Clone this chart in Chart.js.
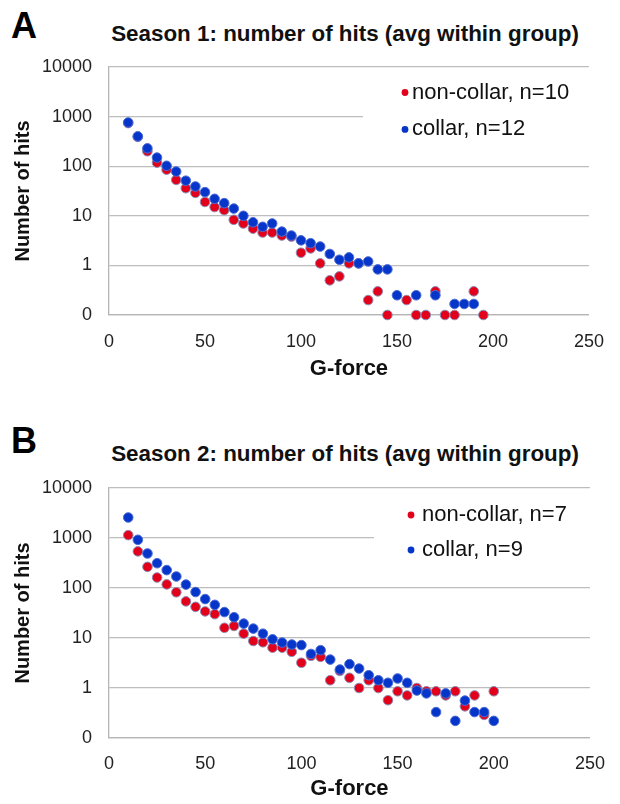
<!DOCTYPE html>
<html>
<head>
<meta charset="utf-8">
<script src="https://cdn.jsdelivr.net/npm/chart.js@4.4.1/dist/chart.umd.min.js"></script>
<style>
  html, body { margin: 0; padding: 0; background: #fff; }
  body { width: 620px; height: 804px; position: relative; overflow: hidden; }
  canvas { position: absolute; left: 0; }
  .panel { position: absolute; left: 11px; font: bold 36px "Liberation Sans", Arial, sans-serif; line-height: 1; color: #000; }
  .title { position: absolute; left: 345px; transform: translateX(-50%); white-space: nowrap;
           font: bold 22.4px "Liberation Sans", Arial, sans-serif; line-height: 1; color: #111; }
</style>
</head>
<body>
<div class="panel" style="top:8px">A</div>
<div class="title" style="top:23px">Season 1: number of hits (avg within group)</div>
<canvas id="chartA" width="620" height="400" style="top:0"></canvas>
<div class="panel" style="top:423px">B</div>
<div class="title" style="top:443px">Season 2: number of hits (avg within group)</div>
<canvas id="chartB" width="620" height="383" style="top:421px"></canvas>
<script>
// G-force bins (x), shared by both seasons
const gForce = [10, 15, 20, 25, 30, 35, 40, 45, 50, 55, 60, 65, 70, 75, 80, 85, 90, 95, 100,
  105, 110, 115, 120, 125, 130, 135, 140, 145, 150, 155, 160, 165, 170, 175, 180, 185, 190, 195, 200];

// season 1, avg hits per player (null = no point shown)
const s1NonCollar = [740, 390, 200, 118, 85, 53, 36, 29, 19, 15, 13, 8.3, 7, 5.5, 4.6, 4.6, 4, 3.8, 1.8,
  2.2, 1.1, 0.5, 0.6, 1.1, 1.1, 0.2, 0.3, 0.1, null, 0.2, 0.1, 0.1, 0.3, 0.1, 0.1, null, 0.3, 0.1, null];
const s1Collar = [760, 400, 229, 149, 102, 78, 51, 39, 30, 22, 18, 14, 10, 7.4, 6, 7, 4.8, 4, 3.2,
  2.8, 2.4, 1.7, 1.3, 1.45, 1.1, 1.2, 0.83, 0.83, 0.25, null, 0.25, null, 0.25, null, 0.167, 0.167, 0.167, null, null];

// season 2
const s2NonCollar = [1140, 540, 265, 162, 118, 82, 54, 42, 34, 30, 16, 17.4, 12.2, 8.7, 8.2, 6.4, 6.4, 5.3, 3.2,
  4.4, 4.2, 1.43, 2.2, 1.6, 1.0, 1.43, 1.0, 0.57, 0.86, 0.71, 1.0, 0.86, 0.86, 0.71, 0.86, 0.43, 0.71, 0.29, 0.86];
const s2Collar = [2570, 920, 490, 313, 228, 170, 117, 83, 60, 46, 33, 26, 19.4, 15.4, 12.2, 9.4, 8.1, 7.4, 7.2,
  4.8, 5.7, 3.7, 2.34, 3.0, 2.45, 1.8, 1.43, 1.27, 1.55, 1.27, 0.89, 0.78, 0.33, 0.78, 0.22, 0.56, 0.33, 0.33, 0.22];

const yTickValues = [0.1, 1, 10, 100, 1000, 10000];
const yTickLabels = ["0", "1", "10", "100", "1000", "10000"];

Chart.defaults.font.family = '"Liberation Sans", Arial, sans-serif';
Chart.defaults.color = "#222";

const RED = "#e2001a", RED_EDGE = "#8d8db5";
const BLUE = "#0636c9", BLUE_EDGE = "#4d6bd6";

function toPoints(values){
  return gForce.map((g, i) => ({ x: g, y: values[i] })).filter(p => p.y !== null);
}

// white legend box drawn over the grid, top right of the plot
const boxLegend = {
  id: "boxLegend",
  afterDraw(chart, args, opts){
    const ctx = chart.ctx;
    ctx.save();
    ctx.fillStyle = "#fff";
    ctx.fillRect(opts.left, opts.top, opts.right - opts.left, opts.bottom - opts.top);
    ctx.font = "22px " + Chart.defaults.font.family;
    ctx.textBaseline = "middle";
    ctx.textAlign = "left";
    chart.data.datasets.forEach((ds, i) => {
      const y = opts.rowY[i];
      ctx.beginPath();
      ctx.arc(opts.dotX, y, 3.4, 0, Math.PI * 2);
      ctx.fillStyle = ds.backgroundColor;
      ctx.fill();
      ctx.fillStyle = "#111";
      ctx.fillText(ds.label, opts.textX, y);
    });
    ctx.restore();
  }
};

function makeChart(id, red, blue, labels, lay){
  return new Chart(document.getElementById(id), {
    type: "scatter",
    data: {
      datasets: [
        { label: labels[0], data: toPoints(red), backgroundColor: RED, borderColor: RED_EDGE,
          borderWidth: 1, pointRadius: 4.8, pointHoverRadius: 4.8, order: 1, clip: false },
        { label: labels[1], data: toPoints(blue), backgroundColor: BLUE, borderColor: BLUE_EDGE,
          borderWidth: 1, pointRadius: 4.8, pointHoverRadius: 4.8, order: 0, clip: false }
      ]
    },
    options: {
      responsive: false,
      animation: false,
      layout: { padding: { left: 0, right: 17, top: lay.plotTop, bottom: 0 } },
      plugins: {
        legend: { display: false },
        tooltip: { enabled: false },
        title: { display: false },
        boxLegend: lay.legend
      },
      scales: {
        x: {
          type: "linear", min: 0, max: 250,
          ticks: { stepSize: 50, padding: lay.xTickPad, font: { size: 18 }, color: "#222" },
          grid: { display: false, drawTicks: false },
          border: { display: true, color: "#b5b5b5", width: 1.3 },
          title: { display: true, text: "G-force", color: "#111", font: { size: 22, weight: "bold" },
            padding: { top: 0, bottom: lay.xTitlePadBottom } },
          afterFit: (s) => { s.height = lay.height - lay.plotBottom; }
        },
        y: {
          type: "logarithmic", min: 0.1, max: 10000,
          afterBuildTicks: (s) => { s.ticks = yTickValues.map(v => ({ value: v })); },
          ticks: {
            padding: 17, font: { size: 18 }, color: "#222",
            callback: (v) => yTickLabels[yTickValues.indexOf(v)]
          },
          grid: { color: "#bdbdbd", lineWidth: 1.3, drawTicks: false },
          border: { display: true, color: "#b5b5b5", width: 1.3 },
          title: { display: true, text: "Number of hits", color: "#111", font: { size: 20, weight: "bold" },
            padding: { top: 11, bottom: 0 } },
          afterFit: (s) => { s.width = 109; }
        }
      }
    },
    plugins: [boxLegend]
  });
}

makeChart("chartA", s1NonCollar, s1Collar, ["non-collar, n=10", "collar, n=12"],
  { height: 400, plotTop: 67, plotBottom: 315, xTickPad: 16, xTitlePadBottom: 17.8,
    legend: { left: 363, top: 75, right: 600, bottom: 147, dotX: 405, textX: 412, rowY: [92.5, 129.4] } });

makeChart("chartB", s2NonCollar, s2Collar, ["non-collar, n=7", "collar, n=9"],
  { height: 383, plotTop: 67, plotBottom: 317, xTickPad: 15, xTitlePadBottom: 1.8,
    legend: { left: 374, top: 75, right: 602, bottom: 148, dotX: 411, textX: 422, rowY: [94, 129] } });
</script>
</body>
</html>
